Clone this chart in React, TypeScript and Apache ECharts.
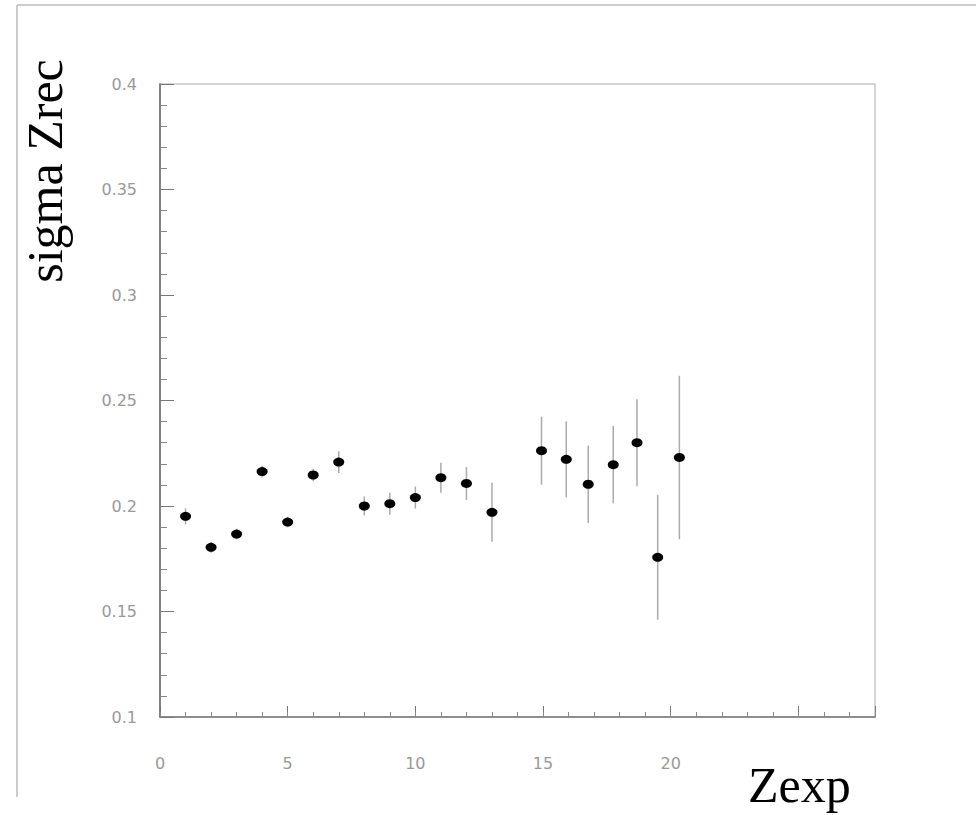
import React, { useEffect, useRef } from "react";
import * as echarts from "echarts";

const zexp = [1, 2, 3, 4, 5, 6, 7, 8, 9, 10, 11, 12, 13, 14.94, 15.91, 16.77, 17.75, 18.68, 19.49, 20.34];
const sigma = [0.1951, 0.1804, 0.1867, 0.2163, 0.1924, 0.2147, 0.2208, 0.2, 0.2011, 0.204, 0.2134, 0.2107, 0.197, 0.2262, 0.2221, 0.2103, 0.2196, 0.23, 0.1757, 0.223];
const sigmaErr = [0.0038, 0.0025, 0.0025, 0.0028, 0.0025, 0.003, 0.0052, 0.0045, 0.0052, 0.0052, 0.0071, 0.0078, 0.014, 0.0161, 0.018, 0.0184, 0.0183, 0.0206, 0.0296, 0.0387];
const xTickLabels = [0, 5, 10, 15, 20];

const labelStyle = { color: "#999", fontSize: 16, fontFamily: "DejaVu Sans" };

export default function App() {
  const ref = useRef<HTMLDivElement>(null);
  useEffect(() => {
    if (!ref.current) return;
    const chart = echarts.init(ref.current, undefined, { renderer: "svg" });
    chart.setOption({
      animation: false,
      backgroundColor: "#fff",
      grid: { left: 160, top: 84, right: 101, bottom: 98, show: true, borderColor: "#c8c8c8", borderWidth: 1.5, backgroundColor: "transparent" },
      xAxis: [
        {
          type: "value", min: 0, max: 28, interval: 5, position: "bottom",
          axisLine: { show: true, lineStyle: { color: "#777", width: 1.5 } },
          axisTick: { show: true, inside: true, length: 11, lineStyle: { color: "#777", width: 1 } },
          axisLabel: { ...labelStyle, margin: 38, formatter: (v: number) => (xTickLabels.includes(v) ? String(v) : "") },
          splitLine: { show: false },
        },
        {
          type: "value", min: 0, max: 28, interval: 1, position: "bottom",
          axisLine: { show: false },
          axisTick: { show: true, inside: true, length: 5, lineStyle: { color: "#888", width: 1 } },
          axisLabel: { show: false },
          splitLine: { show: false },
        },
      ],
      yAxis: {
        type: "value", min: 0.1, max: 0.4, interval: 0.05,
        axisLine: { show: true, lineStyle: { color: "#666", width: 1.5 } },
        axisTick: { show: true, inside: true, length: 14, lineStyle: { color: "#777", width: 1 } },
        minorTick: { show: true, splitNumber: 5, length: 7, lineStyle: { color: "#888", width: 1 } },
        axisLabel: { ...labelStyle, margin: 23 },
        splitLine: { show: false },
      },
      graphic: [
        { type: "line", shape: { x1: 17, y1: 5, x2: 976, y2: 5 }, style: { stroke: "#bbb", lineWidth: 1.5 }, silent: true },
        { type: "line", shape: { x1: 17, y1: 5, x2: 17, y2: 797 }, style: { stroke: "#bbb", lineWidth: 1.5 }, silent: true },
        {
          type: "text", x: 45, y: 171, rotation: Math.PI / 2,
          style: { text: "sigma Zrec", fontFamily: "Liberation Serif", fontSize: 50, fill: "#000", align: "center", verticalAlign: "middle" },
        },
        {
          type: "text", x: 748, y: 785,
          style: { text: "Zexp", fontFamily: "Liberation Serif", fontSize: 50, fill: "#000", align: "left", verticalAlign: "middle" },
        },
      ],
      series: [
        {
          type: "custom",
          xAxisIndex: 0,
          yAxisIndex: 0,
          data: zexp.map((x, i) => [x, sigma[i] - sigmaErr[i], sigma[i] + sigmaErr[i]]),
          encode: { x: 0, y: [1, 2] },
          renderItem: (params: any, api: any) => {
            const lo = api.coord([api.value(0), api.value(1)]);
            const hi = api.coord([api.value(0), api.value(2)]);
            return {
              type: "line",
              shape: { x1: lo[0], y1: lo[1], x2: hi[0], y2: hi[1] },
              style: { stroke: "#aaa", lineWidth: 1.5 },
            };
          },
          z: 1,
        },
        {
          type: "scatter",
          xAxisIndex: 0,
          yAxisIndex: 0,
          data: zexp.map((x, i) => [x, sigma[i]]),
          symbol: "circle",
          symbolSize: [11, 9],
          itemStyle: { color: "#000", opacity: 1 },
          z: 2,
        },
      ],
    });
    return () => chart.dispose();
  }, []);
  return <div ref={ref} style={{ position: "fixed", left: 0, top: 0, width: 976, height: 815 }} />;
}
